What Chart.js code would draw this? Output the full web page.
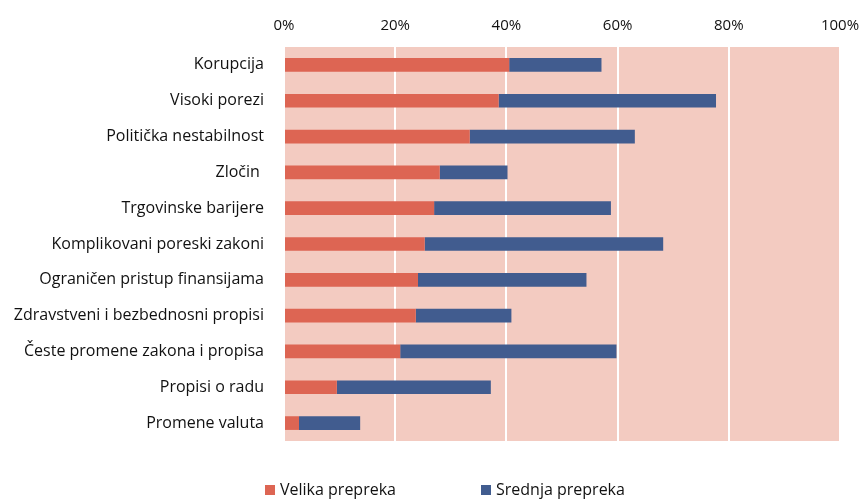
<!DOCTYPE html>
<html>
<head>
<meta charset="utf-8">
<script src="https://cdn.jsdelivr.net/npm/chart.js@4"></script>
<style>
  html, body { margin: 0; padding: 0; background: #fff; overflow: hidden; }
  #wrap { position: relative; width: 863px; height: 499px; }
  #legend { position: absolute; top: 478px; left: 0; width: 863px; font-family: "Open Sans", sans-serif; font-size: 16px; color: #111; }
  .lg { position: absolute; white-space: nowrap; }
  .lg i { display: inline-block; width: 10px; height: 10px; margin-right: 5px; vertical-align: 0; }
</style>
</head>
<body>
<div id="wrap">
  <canvas id="chart" width="863" height="499"></canvas>
  <div id="legend"></div>
</div>
<script>
const categories = [
  "Korupcija",
  "Visoki porezi",
  "Politička nestabilnost",
  "Zločin ",
  "Trgovinske barijere",
  "Komplikovani poreski zakoni",
  "Ograničen pristup finansijama",
  "Zdravstveni i bezbednosni propisi",
  "Česte promene zakona i propisa",
  "Propisi o radu",
  "Promene valuta",
];
const velika = [40.5, 38.6, 33.4, 28.0, 27.0, 25.3, 24.1, 23.7, 20.9, 9.5, 2.7];
const srednja = [16.6, 39.1, 29.7, 12.2, 31.8, 42.9, 30.3, 17.2, 38.9, 27.7, 11.0];
const xTicks = [0, 20, 40, 60, 80, 100];
const seriesNames = ["Velika prepreka", "Srednja prepreka"];
const colors = ["#DD6553", "#415C8F"];

const plotBg = {
  id: "plotBg",
  beforeDraw(chart) {
    const a = chart.chartArea,
      ctx = chart.ctx;
    ctx.save();
    ctx.fillStyle = "#F3CBC1";
    ctx.fillRect(a.left, a.top, a.right - a.left, a.bottom - a.top);
    ctx.restore();
  },
};

new Chart(document.getElementById("chart"), {
  type: "bar",
  data: {
    labels: categories,
    datasets: [
      { label: seriesNames[0], data: velika, backgroundColor: colors[0], barPercentage: 0.78, categoryPercentage: 0.49 },
      { label: seriesNames[1], data: srednja, backgroundColor: colors[1], barPercentage: 0.78, categoryPercentage: 0.49 },
    ],
  },
  options: {
    indexAxis: "y",
    responsive: false,
    animation: false,
    layout: { padding: { left: 0, right: 23, top: 0, bottom: 58 } },
    plugins: { legend: { display: false }, tooltip: { enabled: false } },
    scales: {
      x: {
        position: "top",
        stacked: true,
        min: 0,
        max: 100,
        afterBuildTicks: (s) => { s.ticks = xTicks.map((v) => ({ value: v })); },
        afterFit: (s) => {
          s.height = 47;
          s.paddingLeft = 0;
          s.paddingRight = 0;
        },
        ticks: {
          callback: (v) => v + "%",
          color: "#111",
          font: { family: "Open Sans", size: 15 },
          padding: 12,
        },
        grid: { color: "#FFFFFF", lineWidth: 2, drawTicks: false },
        border: { display: false },
      },
      y: {
        stacked: true,
        afterFit: (s) => { s.width = 284; },
        ticks: {
          color: "#111",
          font: { family: "Open Sans", size: 16 },
          padding: 12,
        },
        grid: { display: false },
        border: { display: false },
      },
    },
  },
  plugins: [plotBg],
});

const legend = document.getElementById("legend");
const legendX = [265, 481];
seriesNames.forEach((n, i) => {
  legend.innerHTML += `<span class="lg" style="left:${legendX[i]}px"><i style="background:${colors[i]}"></i>${n}</span>`;
});
</script>
</body>
</html>
